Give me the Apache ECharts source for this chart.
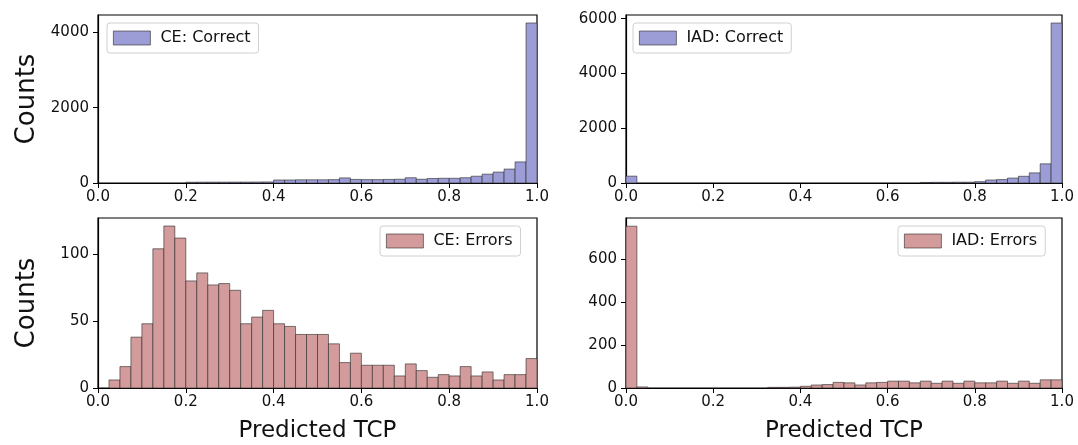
<!DOCTYPE html>
<html><head><meta charset="utf-8">
<script src="https://cdn.jsdelivr.net/npm/echarts@6/dist/echarts.min.js"></script>
<style>html,body{margin:0;padding:0;background:#fff}#c{width:1078px;height:445px}</style>
</head><body><div id="c"></div>
<script>
// 40 bins of width 0.025 on [0, 1]
var binCount = 40;
var binWidth = 0.025;
var xTicks = [0, 0.2, 0.4, 0.6, 0.8, 1.0];
var ceCorrectTicks = [0, 2000, 4000];
var iadCorrectTicks = [0, 2000, 4000, 6000];
var ceErrorsTicks = [0, 50, 100];
var iadErrorsTicks = [0, 200, 400, 600];
var seriesNames = ['CE: Correct', 'IAD: Correct', 'CE: Errors', 'IAD: Errors'];

var ceCorrect = [0,0,0,0,0,0,0,0, 20,22,22,22,24,24,26,28, 80,80,85,85,85,90, 135, 95,90,90,95,100, 140, 100, 120,125,125,140,180,235,290,370,560,4250];
var iadCorrect = [250, 0,0,0,0,0,0,0,0,0,0,0,0,0,0,0,0,0,0,0,0,0,0,0,0,0,0, 20,25,25,30,30, 50,110,125,180,245,370,700,5840];
var ceErrors = [0,6,16,38,48,104,121,112,80,86,77,78,73,48,53,58,48,46,40,40,40,33,19,26,17,17,17,9,18,13,8,10,9,16,9,12,6,10,10,22];
var iadErrors = [752,5, 0,0,0,0,0,0,0,0,0,0,0, 3,3,4,8,14,16,26,24,14,24,26,32,32,24,32,22,32,22,32,24,24,32,22,32,22,38,38];

var blue = '#9c9cd6', red = '#d39b9b', edge = 'rgba(40,40,40,0.75)';
var font = 'DejaVu Sans';

function toRows(counts) {
  return counts.map(function (c, i) { return [i * binWidth, (i + 1) * binWidth, c]; });
}
var grids = [
  {left: 98, top: 15, width: 439, height: 168},
  {left: 626, top: 15, width: 436, height: 168},
  {left: 98, top: 218, width: 439, height: 170},
  {left: 626, top: 218, width: 436, height: 170}
];
var yMax = [4462, 6132, 127, 790];
var yTicks = [ceCorrectTicks, iadCorrectTicks, ceErrorsTicks, iadErrorsTicks];
var data = [ceCorrect, iadCorrect, ceErrors, iadErrors];
var colors = [blue, blue, red, red];
var legendPos = [{left: 107, top: 23}, {left: 633, top: 23}, {left: 380, top: 226}, {left: 898, top: 226}];

var option = {
  animation: false,
  backgroundColor: '#fff',
  grid: grids.map(function (g) { return Object.assign({show: true, borderColor: '#000', borderWidth: 1.2, backgroundColor: 'transparent'}, g); }),
  xAxis: grids.map(function (g, i) {
    return {
      type: 'value', gridIndex: i, min: 0, max: 1, interval: 0.2,
      name: i >= 2 ? 'Predicted TCP' : '', nameLocation: 'middle', nameGap: 32,
      nameTextStyle: {fontFamily: font, fontSize: 23, color: '#111'},
      splitLine: {show: false},
      axisLine: {lineStyle: {color: '#000', width: 1.2}},
      axisTick: {show: true, length: 5, lineStyle: {color: '#000'}, customValues: xTicks},
      axisLabel: {customValues: xTicks, margin: 7, fontFamily: font, fontSize: 15, color: '#111',
        formatter: function (v) { return v.toFixed(1); }}
    };
  }),
  yAxis: grids.map(function (g, i) {
    return {
      type: 'value', gridIndex: i, min: 0, max: yMax[i],
      name: (i % 2 === 0) ? 'Counts' : '', nameLocation: 'middle', nameGap: 58,
      nameTextStyle: {fontFamily: font, fontSize: 26, color: '#111'},
      splitLine: {show: false},
      axisLine: {show: true, lineStyle: {color: '#000', width: 1.2}},
      axisTick: {show: true, length: 5, lineStyle: {color: '#000'}, customValues: yTicks[i]},
      axisLabel: {customValues: yTicks[i], margin: 9, fontFamily: font, fontSize: 15, color: '#111',
        formatter: function (v) { return String(v); }}
    };
  }),
  legend: seriesNames.map(function (n, i) {
    return Object.assign({
      data: [{name: n, icon: 'rect', itemStyle: {color: colors[i], borderColor: edge, borderWidth: 0.8}}],
      orient: 'horizontal', itemWidth: 37, itemHeight: 14,
      padding: [7, 8, 7, 6], borderColor: '#d0d0d0', borderWidth: 1, borderRadius: 3,
      backgroundColor: 'rgba(255,255,255,0.85)', selectedMode: false,
      textStyle: {fontFamily: font, fontSize: 16, color: '#111', padding: [0, 0, 0, 5]}
    }, legendPos[i]);
  }),
  series: seriesNames.map(function (n, i) {
    return {
      type: 'custom', name: n, xAxisIndex: i, yAxisIndex: i,
      data: toRows(data[i]),
      encode: {x: [0, 1], y: 2},
      itemStyle: {color: colors[i]},
      renderItem: function (params, api) {
        var c = api.value(2);
        if (!c) return null;
        var p0 = api.coord([api.value(0), c]);
        var p1 = api.coord([api.value(1), 0]);
        return {type: 'rect', shape: {x: p0[0], y: p0[1], width: p1[0] - p0[0], height: p1[1] - p0[1]},
          style: {fill: colors[i], stroke: edge, lineWidth: 0.8}};
      }
    };
  })
};
var chart = echarts.init(document.getElementById('c'), null, {renderer: 'canvas'});
chart.setOption(option);
</script></body></html>
